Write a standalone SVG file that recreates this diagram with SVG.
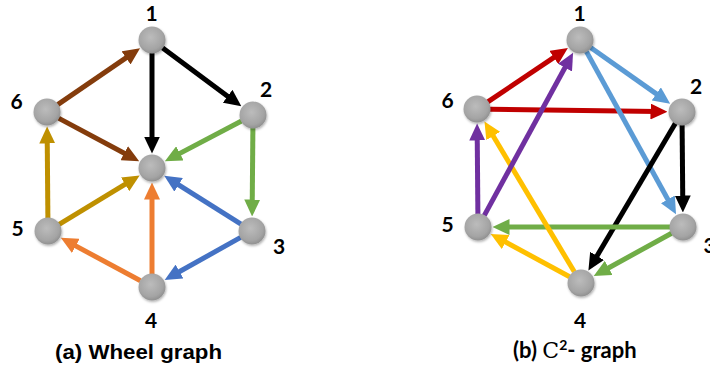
<svg xmlns="http://www.w3.org/2000/svg" width="710" height="374" viewBox="0 0 710 374">
  <style>
    .edge { stroke-width: 5; fill: none; }
    .node { fill: url(#ball); filter: url(#shadow); }
    .lbl { font-family: Lato, "Open Sans", sans-serif; font-weight: bold; font-size: 21px; fill: #000; text-anchor: middle; }
    .cap { font-family: "Liberation Sans", Arial, sans-serif; font-weight: bold; font-size: 20px; fill: #000; }
    .capb { font-family: Lato, "Open Sans", sans-serif; font-weight: bold; font-size: 22px; fill: #000; }
  </style>
  <defs>
    <radialGradient id="ball" cx="0.45" cy="0.4" r="0.65">
      <stop offset="0" stop-color="#bcbcbc"/>
      <stop offset="0.7" stop-color="#a4a4a4"/>
      <stop offset="1" stop-color="#8a8a8a"/>
    </radialGradient>
    <filter id="shadow" x="-40%" y="-40%" width="180%" height="180%">
      <feDropShadow dx="0.8" dy="1.5" stdDeviation="1.3" flood-color="#000" flood-opacity="0.3"/>
    </filter>
    <marker id="m-black" markerUnits="userSpaceOnUse" markerWidth="17" markerHeight="16" refX="7" refY="8" orient="auto"><path d="M0,0 L17,8 L0,16 z" fill="#000000"/></marker>
    <marker id="m-brown" markerUnits="userSpaceOnUse" markerWidth="17" markerHeight="16" refX="7" refY="8" orient="auto"><path d="M0,0 L17,8 L0,16 z" fill="#843c0c"/></marker>
    <marker id="m-green" markerUnits="userSpaceOnUse" markerWidth="17" markerHeight="16" refX="7" refY="8" orient="auto"><path d="M0,0 L17,8 L0,16 z" fill="#70ad47"/></marker>
    <marker id="m-blue" markerUnits="userSpaceOnUse" markerWidth="17" markerHeight="16" refX="7" refY="8" orient="auto"><path d="M0,0 L17,8 L0,16 z" fill="#4472c4"/></marker>
    <marker id="m-orange" markerUnits="userSpaceOnUse" markerWidth="17" markerHeight="16" refX="7" refY="8" orient="auto"><path d="M0,0 L17,8 L0,16 z" fill="#ed7d31"/></marker>
    <marker id="m-gold" markerUnits="userSpaceOnUse" markerWidth="17" markerHeight="16" refX="7" refY="8" orient="auto"><path d="M0,0 L17,8 L0,16 z" fill="#bf9000"/></marker>
    <marker id="m-red" markerUnits="userSpaceOnUse" markerWidth="17" markerHeight="16" refX="7" refY="8" orient="auto"><path d="M0,0 L17,8 L0,16 z" fill="#c00000"/></marker>
    <marker id="m-sky" markerUnits="userSpaceOnUse" markerWidth="17" markerHeight="16" refX="7" refY="8" orient="auto"><path d="M0,0 L17,8 L0,16 z" fill="#5b9bd5"/></marker>
    <marker id="m-yellow" markerUnits="userSpaceOnUse" markerWidth="17" markerHeight="16" refX="7" refY="8" orient="auto"><path d="M0,0 L17,8 L0,16 z" fill="#ffc000"/></marker>
    <marker id="m-purple" markerUnits="userSpaceOnUse" markerWidth="17" markerHeight="16" refX="7" refY="8" orient="auto"><path d="M0,0 L17,8 L0,16 z" fill="#7030a0"/></marker>
  </defs>

  <rect width="710" height="374" fill="#ffffff"/>

  <!-- (a) wheel graph: edges -->
  <g id="wheel-edges">
    <line class="edge" x1="162.4" y1="47.7" x2="233.3" y2="100.4" stroke="#000000" marker-end="url(#m-black)"/>
    <line class="edge" x1="152" y1="53" x2="152" y2="143.5" stroke="#000000" marker-end="url(#m-black)"/>
    <line class="edge" x1="57.7" y1="104.6" x2="131.8" y2="53.9" stroke="#843c0c" marker-end="url(#m-brown)"/>
    <line class="edge" x1="58.5" y1="118.1" x2="130.4" y2="156.5" stroke="#843c0c" marker-end="url(#m-brown)"/>
    <line class="edge" x1="241.5" y1="121" x2="173.7" y2="156.6" stroke="#70ad47" marker-end="url(#m-green)"/>
    <line class="edge" x1="252.9" y1="128" x2="252.2" y2="206.5" stroke="#70ad47" marker-end="url(#m-green)"/>
    <line class="edge" x1="241" y1="224.1" x2="172.7" y2="181.1" stroke="#4472c4" marker-end="url(#m-blue)"/>
    <line class="edge" x1="240.7" y1="237.4" x2="173.4" y2="275" stroke="#4472c4" marker-end="url(#m-blue)"/>
    <line class="edge" x1="152" y1="274" x2="152" y2="192.5" stroke="#ed7d31" marker-end="url(#m-orange)"/>
    <line class="edge" x1="140.5" y1="280.8" x2="69.6" y2="242.6" stroke="#ed7d31" marker-end="url(#m-orange)"/>
    <line class="edge" x1="59.1" y1="224.3" x2="131.1" y2="180.7" stroke="#bf9000" marker-end="url(#m-gold)"/>
    <line class="edge" x1="47.9" y1="218" x2="47.2" y2="136.5" stroke="#bf9000" marker-end="url(#m-gold)"/>
  </g>

  <!-- (a) wheel graph: nodes -->
  <g id="a1"><circle class="node" cx="152" cy="40" r="13.5"/><text class="lbl" x="151.5" y="21">1</text></g>
  <g id="a2"><circle class="node" cx="253" cy="115" r="13.5"/><text class="lbl" x="266" y="97">2</text></g>
  <g id="a3"><circle class="node" cx="252" cy="231" r="13.5"/><text class="lbl" x="279" y="254">3</text></g>
  <g id="a4"><circle class="node" cx="152" cy="287" r="13.5"/><text class="lbl" x="151" y="328">4</text></g>
  <g id="a5"><circle class="node" cx="48" cy="231" r="13.5"/><text class="lbl" x="17.5" y="236">5</text></g>
  <g id="a6"><circle class="node" cx="47" cy="112" r="13.5"/><text class="lbl" x="16.5" y="109">6</text></g>
  <g id="a-hub"><circle class="node" cx="152" cy="168" r="13.5"/></g>

  <!-- (b) C^2 graph: edges -->
  <g id="c2-edges">
    <line class="edge" x1="487.8" y1="101.8" x2="559.6" y2="53.6" stroke="#c00000" marker-end="url(#m-red)"/>
    <line class="edge" x1="490" y1="109.2" x2="657.5" y2="111.6" stroke="#c00000" marker-end="url(#m-red)"/>
    <line class="edge" x1="590.6" y1="47.5" x2="662" y2="97.9" stroke="#5b9bd5" marker-end="url(#m-sky)"/>
    <line class="edge" x1="586.3" y1="51.4" x2="671.2" y2="205.5" stroke="#5b9bd5" marker-end="url(#m-sky)"/>
    <line class="edge" x1="682.1" y1="125" x2="682.8" y2="202.5" stroke="#000000" marker-end="url(#m-black)"/>
    <line class="edge" x1="675.4" y1="123.2" x2="593.5" y2="261.9" stroke="#000000" marker-end="url(#m-black)"/>
    <line class="edge" x1="670" y1="227" x2="502.5" y2="227" stroke="#70ad47" marker-end="url(#m-green)"/>
    <line class="edge" x1="671.6" y1="233.3" x2="602.5" y2="271.2" stroke="#70ad47" marker-end="url(#m-green)"/>
    <line class="edge" x1="569.6" y1="276.8" x2="499.5" y2="238.7" stroke="#ffc000" marker-end="url(#m-yellow)"/>
    <line class="edge" x1="574.3" y1="271.8" x2="489.6" y2="130" stroke="#ffc000" marker-end="url(#m-yellow)"/>
    <line class="edge" x1="477.9" y1="214" x2="477.2" y2="133.5" stroke="#7030a0" marker-end="url(#m-purple)"/>
    <line class="edge" x1="484.2" y1="215.6" x2="568.3" y2="61.5" stroke="#7030a0" marker-end="url(#m-purple)"/>
  </g>

  <!-- (b) C^2 graph: nodes -->
  <g id="b1"><circle class="node" cx="580" cy="40" r="13.5"/><text class="lbl" x="579.7" y="21">1</text></g>
  <g id="b2"><circle class="node" cx="682" cy="112" r="13.5"/><text class="lbl" x="696" y="94">2</text></g>
  <g id="b3"><circle class="node" cx="683" cy="227" r="13.5"/><text class="lbl" x="709.5" y="253">3</text></g>
  <g id="b4"><circle class="node" cx="581" cy="283" r="13.5"/><text class="lbl" x="580" y="328">4</text></g>
  <g id="b5"><circle class="node" cx="478" cy="227" r="13.5"/><text class="lbl" x="447.5" y="232">5</text></g>
  <g id="b6"><circle class="node" cx="477" cy="109" r="13.5"/><text class="lbl" x="447.5" y="108">6</text></g>

  <!-- captions -->
  <text class="cap" x="55" y="359" textLength="167" lengthAdjust="spacingAndGlyphs">(a) Wheel graph</text>
  <text class="capb" x="513" y="358">(b) <tspan font-family="'DejaVu Serif', serif" font-weight="normal">C</tspan><tspan dy="-8" font-size="14">2</tspan><tspan dy="8">- graph</tspan></text>
</svg>
